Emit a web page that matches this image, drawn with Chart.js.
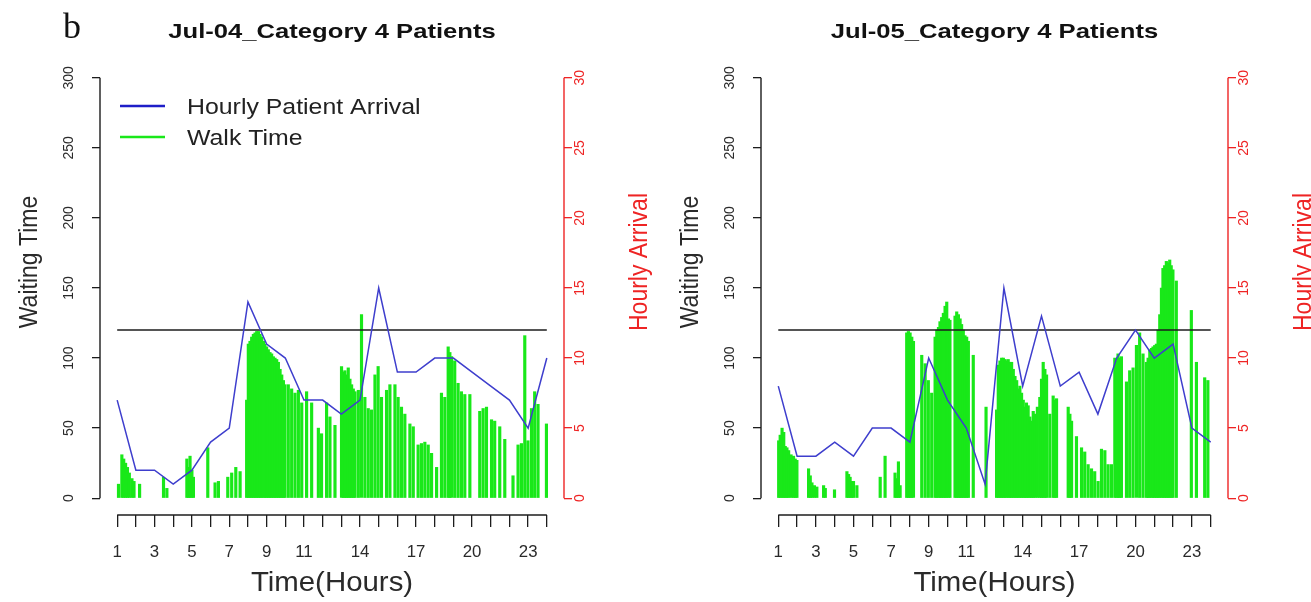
<!DOCTYPE html>
<html>
<head>
<meta charset="utf-8">
<script src="https://cdn.jsdelivr.net/npm/chart.js@4.4.1/dist/chart.umd.min.js"></script>
<style>
    body { margin: 0; background: #fff; width: 1311px; height: 602px; overflow: hidden; position: relative; }
    .panel { position: absolute; top: 0; height: 602px; }
    #p1 { left: 0; width: 655px; }
    #p2 { left: 655px; width: 656px; }
</style>
</head>
<body>
<div class="panel" id="p1"><canvas id="chart1"></canvas></div>
<div class="panel" id="p2"><canvas id="chart2"></canvas></div>

<script>
/* Hours on the x axis and the labels R kept */
var hours = [1, 2, 3, 4, 5, 6, 7, 8, 9, 10, 11, 12, 13, 14, 15, 16, 17, 18, 19, 20, 21, 22, 23, 24];
var hourLabels = [1, 3, 5, 7, 9, 11, 14, 17, 20, 23];
var waitTicks = [0, 50, 100, 150, 200, 250, 300];
var arrivalTicks = [0, 5, 10, 15, 20, 25, 30];
var waitLimit = 120;

/* Jul-04 */
var arrival1 = [7, 2, 2, 1, 2, 4, 5, 14, 11, 10, 7, 7, 6, 7, 15, 9, 9, 10, 10, 9, 8, 7, 5, 10];
var walkHour1 = [1.07, 1.25, 1.35, 1.45, 1.55, 1.65, 1.79, 1.9, 2.2, 3.48, 3.66, 4.73, 4.82, 4.9, 5.0, 5.08, 5.85, 6.24, 6.42, 6.92, 7.13, 7.35, 7.58,
    7.93, 8.02, 8.11, 8.2, 8.29, 8.38, 8.47, 8.56, 8.65, 8.74, 8.83, 8.91, 9.0, 9.09, 9.18, 9.27, 9.36, 9.45, 9.54, 9.63, 9.72, 9.81, 9.9, 9.98,
    10.16, 10.34, 10.52, 10.7, 10.88, 11.14, 11.41, 11.77, 11.94, 12.21, 12.39, 12.66,
    13.01, 13.1, 13.19, 13.28, 13.37, 13.46, 13.55, 13.64, 13.73, 13.91, 14.08, 14.26, 14.44, 14.62, 14.8, 14.97,
    15.15, 15.42, 15.6, 15.87, 16.04, 16.22, 16.4, 16.67, 16.85, 17.11, 17.29, 17.47, 17.65, 17.83,
    18.1, 18.36, 18.54, 18.72, 18.81, 18.9, 19.07, 19.25, 19.43, 19.61, 19.88, 20.41, 20.59, 20.77,
    21.04, 21.21, 21.48, 21.75, 22.19, 22.46, 22.64, 22.82, 22.99, 23.18, 23.35, 23.53, 23.98];
var walkTime1 = [10, 31, 28, 25, 22, 18, 14, 12, 10, 15, 7, 28, 22, 30, 20, 15, 36, 11, 12, 15, 18, 22, 19,
    70, 110, 112, 115, 117, 118, 119, 119, 117, 115, 112, 110, 108, 106, 104, 103, 101, 100, 99, 97, 92, 88, 84, 81,
    81, 78, 75, 77, 68, 76, 68, 50, 46, 68, 58, 52,
    94, 90, 91, 88, 93, 85, 81, 78, 76, 77, 131, 72, 64, 63, 88, 94,
    72, 77, 81, 81, 72, 65, 60, 53, 51, 38, 39, 40, 38, 32,
    22, 75, 72, 108, 104, 101, 98, 82, 76, 74, 74, 62, 64, 65,
    56, 55, 51, 42, 16, 38, 39, 116, 41, 64, 76, 67, 53];

/* Jul-05 */
var arrival2 = [8, 3, 3, 4, 3, 5, 5, 4, 10, 7, 5, 1, 15, 8, 13, 8, 9, 6, 10, 12, 10, 11, 5, 4];
var walkHour2 = [1.02, 1.1, 1.2, 1.29, 1.37, 1.46, 1.55, 1.68, 1.81, 1.9, 1.99, 2.61, 2.7, 2.79, 2.92, 3.05, 3.41, 3.5, 3.99,
    4.65, 4.74, 4.82, 4.91, 5.0, 5.18, 6.42, 6.68, 7.21, 7.3, 7.39, 7.48,
    7.83, 7.92, 8.01, 8.1, 8.19, 8.63, 8.81, 8.98, 9.16, 9.34, 9.43, 9.52, 9.6, 9.69, 9.78, 9.87, 9.96, 10.05, 10.13,
    10.4, 10.49, 10.58, 10.67, 10.75, 10.84, 10.93, 11.02, 11.11, 11.37, 12.05,
    12.61, 12.7, 12.79, 12.88, 12.97, 13.06, 13.14, 13.23, 13.32, 13.41, 13.5, 13.59, 13.68, 13.76, 13.85, 13.94,
    14.03, 14.12, 14.2, 14.29, 14.38, 14.47, 14.56, 14.65, 14.78, 14.91, 15.0, 15.09, 15.18, 15.27, 15.44, 15.62, 15.71, 15.8,
    16.42, 16.51, 16.6, 16.86, 17.13, 17.3, 17.48, 17.66, 17.83, 18.01, 18.19, 18.37, 18.54, 18.72,
    18.9, 18.99, 19.07, 19.16, 19.25, 19.52, 19.69, 19.87, 20.05, 20.22, 20.4, 20.58, 20.67, 20.76, 20.85, 20.93,
    21.02, 21.11, 21.2, 21.29, 21.38, 21.46, 21.55, 21.64, 21.73, 21.82, 21.9, 21.99, 22.17, 22.97, 23.24, 23.68, 23.85];
var walkTime2 = [41, 45, 50, 47, 37, 36, 34, 31, 30, 28, 27, 21, 16, 11, 9, 8, 9, 7, 6,
    19, 17, 15, 12, 12, 9, 15, 30, 18, 14, 26, 9,
    118, 119, 118, 115, 112, 102, 96, 84, 75, 115, 120, 122, 126, 129, 132, 137, 140, 128, 127,
    130, 133, 131, 128, 124, 120, 116, 115, 112, 102, 65,
    63, 95, 98, 100, 100, 99, 98, 99, 97, 97, 92, 87, 84, 78, 80, 75,
    70, 65, 68, 66, 58, 55, 62, 60, 65, 72, 85, 97, 92, 88, 60, 73, 70, 71,
    65, 60, 55, 44, 36, 33, 24, 21, 19, 12, 35, 34, 24, 24,
    100, 98, 103, 100, 101, 83, 91, 93, 109, 118, 103, 97, 100, 106, 107, 108,
    109, 110, 120, 131, 150, 164, 166, 169, 168, 170, 166, 163, 155, 134, 97, 86, 84];

/* Colours */
var green_color = 'rgb(25, 232, 25)';
var blue_color = 'rgb(62, 62, 205)';
var red_color = 'rgb(238, 36, 36)';
var ink_color = '#1c1c1c';
var FONT = '"Liberation Sans", Arial, sans-serif';

/* Build {x, y} points from two arrays */
function pairs(xs, ys) {
    return xs.map(function(v, i) { return { x: v, y: ys[i] }; });
}

function strokeLine(ctx, x1, y1, x2, y2) {
    ctx.beginPath();
    ctx.moveTo(x1, y1);
    ctx.lineTo(x2, y2);
    ctx.stroke();
}

// Text widened by sx like the (sideways stretched) source; rotated -90 for the y axes
function wideText(ctx, text, x, y, sx, rotated) {
    ctx.save();
    ctx.translate(x, y);
    ctx.scale(sx, 1);
    if (rotated) ctx.rotate(-Math.PI / 2);
    ctx.fillText(text, 0, 0);
    ctx.restore();
}

/* R-like axes: short axis lines, rotated labels, titles and legend */
var rStyle = {
    id: 'rStyle',
    afterDatasetsDraw: function(chart, args, o) {
        var ctx = chart.ctx;
        var ca = chart.chartArea;
        var x = chart.scales.x, y = chart.scales.y, y1 = chart.scales.y1;
        ctx.save();
        ctx.textAlign = 'center';
        ctx.textBaseline = 'middle';

        // axis lines only over the tick range
        ctx.lineWidth = 1.4;
        ctx.strokeStyle = ink_color;
        strokeLine(ctx, ca.left, y.getPixelForValue(0), ca.left, y.getPixelForValue(300));
        strokeLine(ctx, x.getPixelForValue(1), ca.bottom, x.getPixelForValue(24), ca.bottom);
        ctx.strokeStyle = red_color;
        strokeLine(ctx, ca.right, y1.getPixelForValue(0), ca.right, y1.getPixelForValue(30));

        // left tick labels
        ctx.fillStyle = '#2a2a2a';
        ctx.font = '14px ' + FONT;
        waitTicks.forEach(function(v) {
            wideText(ctx, String(v), ca.left - 31, y.getPixelForValue(v), 1.05, true);
        });
        // right tick labels
        ctx.fillStyle = red_color;
        arrivalTicks.forEach(function(v) {
            wideText(ctx, String(v), ca.right + 16, y1.getPixelForValue(v), 1.05, true);
        });
        // x tick labels
        ctx.fillStyle = '#2a2a2a';
        ctx.font = '16px ' + FONT;
        hourLabels.forEach(function(h) {
            wideText(ctx, String(h), x.getPixelForValue(h), 553, 1.05, false);
        });

        // axis titles
        ctx.font = '28px ' + FONT;
        wideText(ctx, 'Time(Hours)', (ca.left + ca.right) / 2, 583, 1.05, false);
        ctx.font = '23px ' + FONT;
        wideText(ctx, 'Waiting Time', ca.left - 70, 262, 1.15, true);
        ctx.fillStyle = red_color;
        wideText(ctx, 'Hourly Arrival', ca.right + 76, 262, 1.15, true);

        // panel title
        ctx.fillStyle = '#111';
        ctx.font = 'bold 21px ' + FONT;
        wideText(ctx, o.title, (ca.left + ca.right) / 2, 32, 1.22, false);

        // panel tag and legend (left panel only)
        if (o.legend) {
            ctx.font = '36px "Liberation Serif", serif';
            wideText(ctx, 'b', 72, 29, 1.0, false);

            ctx.lineWidth = 2.5;
            ctx.strokeStyle = 'rgb(30, 30, 200)';
            strokeLine(ctx, 120, 106, 165, 106);
            ctx.strokeStyle = green_color;
            strokeLine(ctx, 120, 137, 165, 137);
            ctx.textAlign = 'left';
            ctx.fillStyle = '#222';
            ctx.font = '22px ' + FONT;
            wideText(ctx, chart.data.datasets[0].label, 187, 108, 1.13, false);
            wideText(ctx, chart.data.datasets[2].label, 187, 139, 1.13, false);
        }
        ctx.restore();
    }
};

/* One panel: hourly arrival line, limit line and walk time bars */
function makeChart(id, arrival, walkHour, walkTime, o) {
    var ctx = document.getElementById(id);
    return new Chart(ctx, {
        type: 'bar',
        data: {
            datasets: [{
                type: 'line',
                label: 'Hourly Patient Arrival',
                data: pairs(hours, arrival),
                yAxisID: 'y1',
                borderColor: blue_color,
                borderWidth: 1.5,
                pointRadius: 0,
                tension: 0,
                order: 0
            }, {
                type: 'line',
                label: 'Limit',
                data: pairs([hours[0], hours[hours.length - 1]], [waitLimit, waitLimit]),
                yAxisID: 'y',
                borderColor: ink_color,
                borderWidth: 1.6,
                pointRadius: 0,
                order: 1
            }, {
                label: 'Walk Time',
                data: pairs(walkHour, walkTime),
                yAxisID: 'y',
                backgroundColor: green_color,
                barThickness: 2.5,
                grouped: false,
                order: 2
            }]
        },
        options: {
            responsive: true,
            maintainAspectRatio: false,
            animation: false,
            layout: { padding: { top: 61 } },
            plugins: {
                legend: { display: false },
                tooltip: { enabled: false },
                rStyle: o
            },
            scales: {
                x: {
                    type: 'linear',
                    offset: false,
                    min: 0.08,
                    max: 24.92,
                    afterBuildTicks: function(s) { s.ticks = hours.map(function(v) { return { value: v }; }); },
                    afterFit: function(s) { s.height = 87; },
                    ticks: { display: false },
                    border: { display: false },
                    grid: { offset: false, drawOnChartArea: false, drawTicks: true, tickLength: 12, color: ink_color, lineWidth: 1.3 }
                },
                y: {
                    position: 'left',
                    min: -12,
                    max: 312,
                    afterBuildTicks: function(s) { s.ticks = waitTicks.map(function(v) { return { value: v }; }); },
                    afterFit: function(s) { s.width = o.leftWidth; },
                    ticks: { display: false },
                    border: { display: false },
                    grid: { drawOnChartArea: false, drawTicks: true, tickLength: 8, color: ink_color, lineWidth: 1.3 }
                },
                y1: {
                    position: 'right',
                    min: -1.2,
                    max: 31.2,
                    afterBuildTicks: function(s) { s.ticks = arrivalTicks.map(function(v) { return { value: v }; }); },
                    afterFit: function(s) { s.width = o.rightWidth; },
                    ticks: { display: false },
                    border: { display: false },
                    grid: { drawOnChartArea: false, drawTicks: true, tickLength: 8, color: red_color, lineWidth: 1.3 }
                }
            }
        },
        plugins: [rStyle]
    });
}

makeChart('chart1', arrival1, walkHour1, walkTime1,
    { title: 'Jul-04_Category 4 Patients', legend: true, leftWidth: 100, rightWidth: 91 });
makeChart('chart2', arrival2, walkHour2, walkTime2,
    { title: 'Jul-05_Category 4 Patients', legend: false, leftWidth: 106, rightWidth: 83 });
</script>
</body>
</html>
